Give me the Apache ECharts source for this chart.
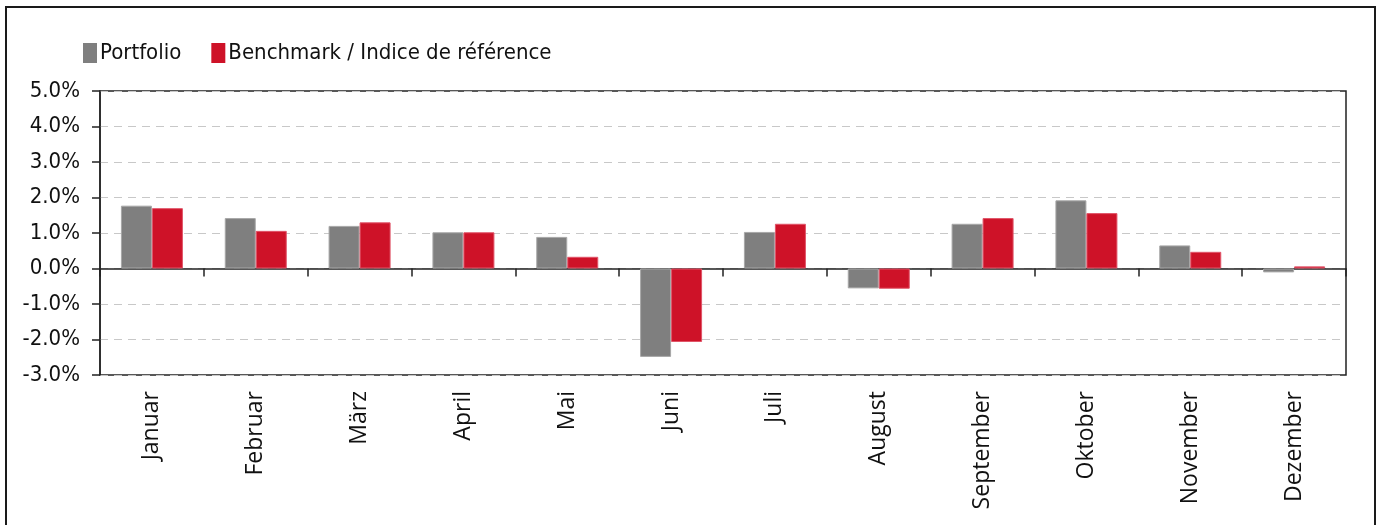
<!DOCTYPE html>
<html>
<head>
<meta charset="utf-8">
<script src="https://cdn.jsdelivr.net/npm/echarts@6/dist/echarts.min.js"></script>
<style>
  html, body { margin: 0; padding: 0; background: #fff; }
  #chart { width: 1381px; height: 525px; }
</style>
</head>
<body>
<div id="chart"></div>
<script>
const months = ['Januar', 'Februar', 'März', 'April', 'Mai', 'Juni', 'Juli', 'August', 'September', 'Oktober', 'November', 'Dezember']
const portfolio = [1.77, 1.42, 1.20, 1.02, 0.89, -2.49, 1.03, -0.56, 1.26, 1.92, 0.65, -0.11]
const benchmark = [1.70, 1.06, 1.30, 1.02, 0.33, -2.07, 1.26, -0.57, 1.42, 1.56, 0.47, 0.06]
const seriesNames = ['Portfolio', 'Benchmark / Indice de référence']
const yTicks = { min: -3, max: 5, step: 1 }

const chart = echarts.init(document.getElementById('chart'))

const option = {
  animation: false,
  backgroundColor: '#fff',
  graphic: [
    {
      type: 'rect',
      shape: { x: 6, y: 7, width: 1369, height: 540 },
      style: { fill: 'none', stroke: '#1a1a1a', lineWidth: 2 },
      silent: true
    }
  ],
  legend: {
    left: 83,
    top: 42,
    padding: 0,
    itemWidth: 14,
    itemHeight: 20,
    itemGap: 30,
    icon: 'rect',
    data: seriesNames,
    itemStyle: { borderWidth: 0 },
    textStyle: {
      fontFamily: '"Liberation Sans Narrow", "DejaVu Sans Condensed", sans-serif',
      fontSize: 22,
      color: '#111',
      padding: [0, 0, 0, -2]
    }
  },
  grid: {
    left: 100,
    right: 35,
    top: 91,
    bottom: 150,
    show: true,
    borderColor: '#222',
    borderWidth: 1.5
  },
  xAxis: [
    {
      type: 'category',
      data: months,
      position: 'bottom',
      axisLine: { show: false, onZero: false },
      axisTick: { show: false },
      axisLabel: {
        rotate: 90,
        margin: 16,
        fontFamily: '"Open Sans", sans-serif',
        fontSize: 23,
        color: '#111'
      }
    },
    {
      type: 'category',
      data: months,
      position: 'bottom',
      axisLine: { show: true, onZero: true, lineStyle: { color: '#222', width: 1.5 } },
      axisTick: { show: true, length: 8, lineStyle: { color: '#222', width: 1.5 } },
      axisLabel: { show: false }
    }
  ],
  yAxis: {
    type: 'value',
    min: yTicks.min,
    max: yTicks.max,
    interval: yTicks.step,
    axisLine: { show: true, lineStyle: { color: '#222', width: 1.5 } },
    axisTick: { show: true, length: 8, lineStyle: { color: '#222', width: 1.5 } },
    axisLabel: {
      margin: 20,
      fontFamily: '"DejaVu Sans Condensed", sans-serif',
      fontSize: 22,
      color: '#111',
      formatter: v => v.toFixed(1) + '%'
    },
    splitLine: {
      show: true,
      lineStyle: { color: '#c8c8c8', type: [8, 6], width: 1 }
    }
  },
  series: [
    {
      name: seriesNames[0],
      type: 'bar',
      data: portfolio,
      barWidth: 31,
      barGap: '0%',
      itemStyle: { color: '#7f7f7f', borderColor: '#a8a8a8', borderWidth: 1 }
    },
    {
      name: seriesNames[1],
      type: 'bar',
      data: benchmark,
      barWidth: 31,
      barGap: '0%',
      itemStyle: { color: '#ce1228', borderColor: '#e05468', borderWidth: 1 }
    }
  ]
}

chart.setOption(option)
</script>
</body>
</html>
